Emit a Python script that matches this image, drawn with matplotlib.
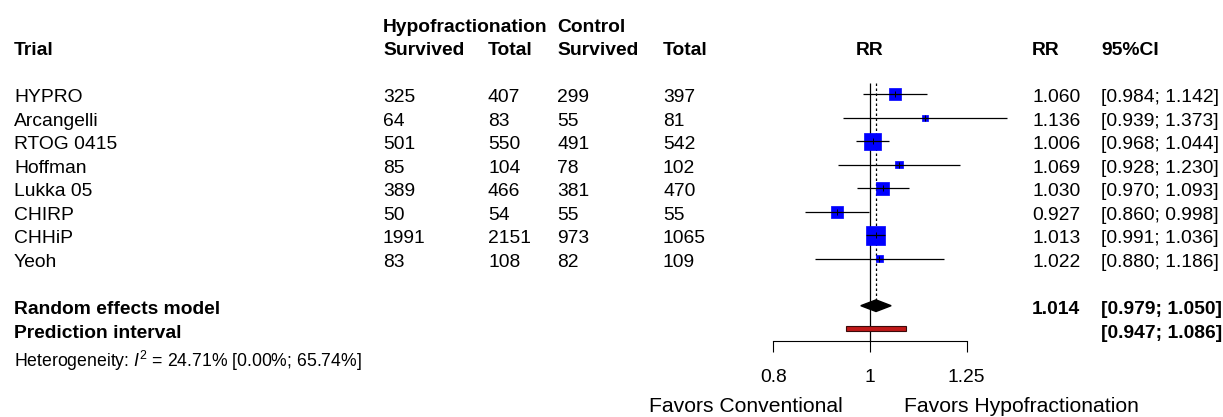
import numpy as np
import matplotlib
matplotlib.use("Agg")
import matplotlib.pyplot as plt

plt.rcParams['font.family'] = ['Liberation Sans', 'DejaVu Sans']
plt.rcParams['mathtext.fontset'] = 'custom'
plt.rcParams['mathtext.rm'] = 'Liberation Sans'
plt.rcParams['mathtext.it'] = 'Liberation Sans:italic'

# data
trials = ["HYPRO", "Arcangelli", "RTOG 0415", "Hoffman", "Lukka 05", "CHIRP", "CHHiP", "Yeoh"]
hypo_surv = [325, 64, 501, 85, 389, 50, 1991, 83]
hypo_total = [407, 83, 550, 104, 466, 54, 2151, 108]
ctrl_surv = [299, 55, 491, 78, 381, 55, 973, 82]
ctrl_total = [397, 81, 542, 102, 470, 55, 1065, 109]
rr = [1.060, 1.136, 1.006, 1.069, 1.030, 0.927, 1.013, 1.022]
ci_lo = [0.984, 0.939, 0.968, 0.928, 0.970, 0.860, 0.991, 0.880]
ci_hi = [1.142, 1.373, 1.044, 1.230, 1.093, 0.998, 1.036, 1.186]
weights = [11.5, 2.9, 22.3, 4.3, 13.5, 11.5, 29.8, 4.3]   # % (random effects)
re_est, re_lo, re_hi = 1.014, 0.979, 1.050
pi_lo, pi_hi = 0.947, 1.086
i2, i2_lo, i2_hi = 24.71, 0.00, 65.74
ticks = [0.8, 1, 1.25]
tick_labels = ["0.8", "1", "1.25"]

W, H = 1223, 417
fs = 13.9
fig = plt.figure(figsize=(W / 100, H / 100), dpi=100)

# text layer in pixel coordinates
ax_t = fig.add_axes([0, 0, 1, 1])
ax_t.set_xlim(0, W)
ax_t.set_ylim(H, 0)
ax_t.axis('off')

# forest layer: log x, 1 sits at pixel 870, 433 px per log unit
x_ref, px_per_log = 870, 433
axis_y = 341
ax = fig.add_axes([0, (H - axis_y) / H, 1, axis_y / H], zorder=2)
ax.patch.set_alpha(0)
ax.set_xscale('log')
ax.set_xlim(np.exp(-x_ref / px_per_log), np.exp((W - x_ref) / px_per_log))
ax.set_ylim(axis_y, 0)
for s in ['left', 'right', 'top']:
    ax.spines[s].set_visible(False)
ax.spines['bottom'].set_bounds(ticks[0], ticks[-1])
ax.spines['bottom'].set_linewidth(0.8)
ax.set_yticks([])
ax.set_xticks(ticks)
ax.set_xticklabels(tick_labels, fontsize=fs)
ax.xaxis.set_minor_locator(matplotlib.ticker.NullLocator())
ax.tick_params(axis='x', length=7.7, width=0.8, pad=12.5, color='black')

row0, dy, off = 94.3, 23.5, 8
rows = [row0 + dy * i for i in range(len(trials))]
y_re, y_pi = 305.7, 328.3

# header
cols = [14, 383, 488, 557, 663]
ax_t.text(383, 32, "Hypofractionation", fontsize=fs, fontweight='bold')
ax_t.text(557, 32, "Control", fontsize=fs, fontweight='bold')
for x, lab in zip(cols, ["Trial", "Survived", "Total", "Survived", "Total"]):
    ax_t.text(x, 55, lab, fontsize=fs, fontweight='bold')
ax_t.text(870, 55, "RR", fontsize=fs, fontweight='bold', ha='center')
ax_t.text(1032, 55, "RR", fontsize=fs, fontweight='bold')
ax_t.text(1101, 55, "95%CI", fontsize=fs, fontweight='bold')

# study rows
for i, y in enumerate(rows):
    vals = [trials[i], hypo_surv[i], hypo_total[i], ctrl_surv[i], ctrl_total[i]]
    for x, v in zip(cols, vals):
        ax_t.text(x, y + off, str(v), fontsize=fs)
    ax_t.text(1032, y + off, f"{rr[i]:.3f}", fontsize=fs)
    ax_t.text(1101, y + off, f"[{ci_lo[i]:.3f}; {ci_hi[i]:.3f}]", fontsize=fs)

sides = 3.535 * np.sqrt(weights) * 0.72
ax.scatter(rr, rows, s=sides ** 2, marker='s', color='#0000ff', edgecolors='#0000ff',
           linewidths=0.5, zorder=3)
ax.hlines(rows, ci_lo, ci_hi, color='black', lw=0.9, zorder=4)
ax.scatter(rr, rows, s=18, marker='|', color='black', linewidths=0.7, zorder=4)

# reference lines
ax.vlines(1, 82.7, axis_y, color='black', lw=0.9, zorder=1)
ax.vlines(re_est, 82.7, y_re - 5.8, color='black', lw=0.9, linestyles=(0, (2, 2)), zorder=1)

# random effects diamond
ax.fill([re_lo, re_est, re_hi, re_est], [y_re, y_re - 5.8, y_re, y_re + 5.8],
        color='black', zorder=3)
ax_t.text(14, y_re + off, "Random effects model", fontsize=fs, fontweight='bold')
ax_t.text(1032, y_re + off, f"{re_est:.3f}", fontsize=fs, fontweight='bold')
ax_t.text(1101, y_re + off, f"[{re_lo:.3f}; {re_hi:.3f}]", fontsize=fs, fontweight='bold')

# prediction interval
ax.fill([pi_lo, pi_hi, pi_hi, pi_lo], [y_pi - 2.2, y_pi - 2.2, y_pi + 2.2, y_pi + 2.2],
        facecolor='#c01818', edgecolor='#3a0a0a', lw=0.8, zorder=3)
ax_t.text(14, y_pi + 9.5, "Prediction interval", fontsize=fs, fontweight='bold')
ax_t.text(1101, y_pi + 9.5, f"[{pi_lo:.3f}; {pi_hi:.3f}]", fontsize=fs, fontweight='bold')

ax_t.text(14, 367, f"Heterogeneity: $I^2$ = {i2:.2f}% [{i2_lo:.2f}%; {i2_hi:.2f}%]", fontsize=12.7)

# direction labels
ax_t.text(843, 412, "Favors Conventional", fontsize=15.2, ha='right')
ax_t.text(904, 412, "Favors Hypofractionation", fontsize=15.2, ha='left')

fig.savefig("out.png", dpi=100)
